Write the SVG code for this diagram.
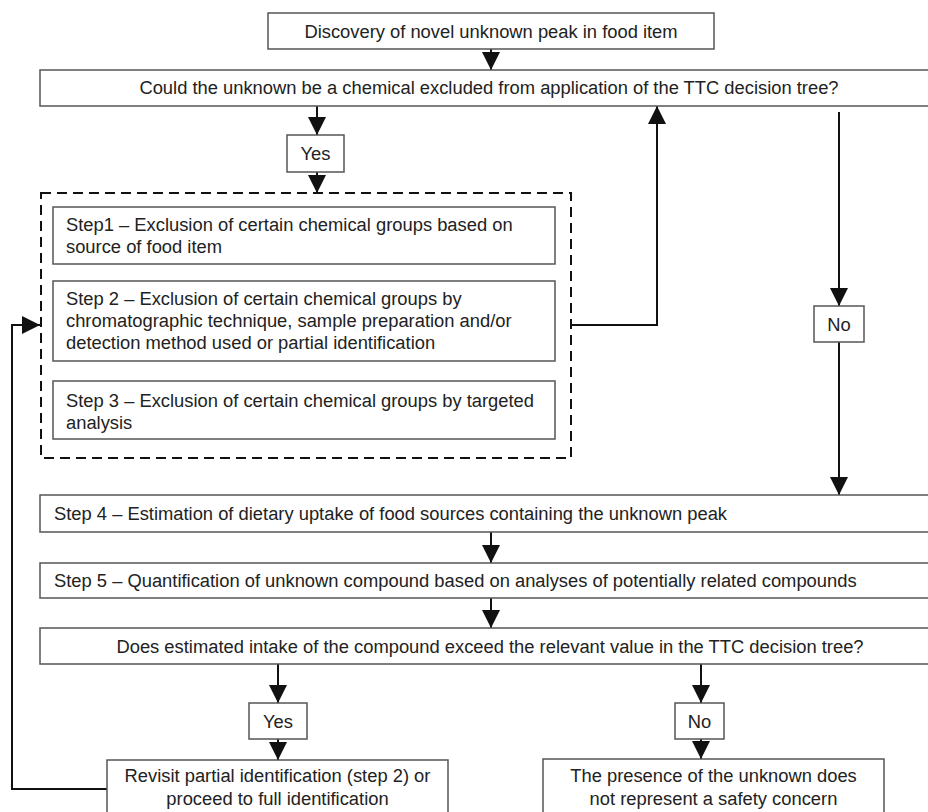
<svg xmlns="http://www.w3.org/2000/svg" width="928" height="812" viewBox="0 0 928 812">
<defs>
<style>
.box{fill:#fff;stroke:#555;stroke-width:1.5}
.dash{fill:none;stroke:#111;stroke-width:2;stroke-dasharray:10 6}
.t{font-family:"Liberation Sans",Arial,sans-serif;font-size:18.35px;fill:#222}
.c{text-anchor:middle}
.ln{fill:none;stroke:#111;stroke-width:2}
</style>
<marker id="ah" markerUnits="userSpaceOnUse" markerWidth="18" markerHeight="18" refX="18" refY="9" orient="auto" viewBox="0 0 18 18">
<path d="M0,0 L18,9 L0,18 z" fill="#111"/>
</marker>
</defs>
<rect width="928" height="812" fill="#fff"/>

<g id="connectors">
<path class="ln" d="M491,49 V70" marker-end="url(#ah)"/>
<path class="ln" d="M317,106 V135" marker-end="url(#ah)"/>
<path class="ln" d="M317,172 V193" marker-end="url(#ah)"/>
<path class="ln" d="M571,325 H657 V106" marker-end="url(#ah)"/>
<path class="ln" d="M839,112 V306" marker-end="url(#ah)"/>
<path class="ln" d="M839,342 V495" marker-end="url(#ah)"/>
<path class="ln" d="M491,532 V563" marker-end="url(#ah)"/>
<path class="ln" d="M491,598 V628" marker-end="url(#ah)"/>
<path class="ln" d="M278,664 V703" marker-end="url(#ah)"/>
<path class="ln" d="M278,739 V760" marker-end="url(#ah)"/>
<path class="ln" d="M701,664 V703" marker-end="url(#ah)"/>
<path class="ln" d="M701,739 V759" marker-end="url(#ah)"/>
<path class="ln" d="M107,789 H12 V325 H40" marker-end="url(#ah)"/>
</g>

<g id="n-discovery">
<rect class="box" x="268" y="13" width="446" height="36"/>
<text class="t c" x="491" y="38">Discovery of novel unknown peak in food item</text>
</g>

<g id="n-q1">
<rect class="box" x="40" y="70" width="900" height="36"/>
<text class="t c" x="489" y="94">Could the unknown be a chemical excluded from application of the TTC decision tree?</text>
</g>

<g id="n-yes1">
<rect class="box" x="287" y="135" width="57" height="37"/>
<text class="t c" x="315.5" y="160">Yes</text>
</g>

<g id="n-group">
<rect class="dash" x="41" y="193" width="530" height="265"/>
</g>

<g id="n-step1">
<rect class="box" x="53" y="207" width="502" height="57"/>
<text class="t" x="66" y="231">Step1 – Exclusion of certain chemical groups based on</text>
<text class="t" x="66" y="253">source of food item</text>
</g>

<g id="n-step2">
<rect class="box" x="53" y="281" width="502" height="80"/>
<text class="t" x="66" y="305">Step 2 – Exclusion of certain chemical groups by</text>
<text class="t" x="66" y="327">chromatographic technique, sample preparation and/or</text>
<text class="t" x="66" y="349">detection method used or partial identification</text>
</g>

<g id="n-step3">
<rect class="box" x="53" y="381" width="502" height="58"/>
<text class="t" x="66" y="407">Step 3 – Exclusion of certain chemical groups by targeted</text>
<text class="t" x="66" y="429">analysis</text>
</g>

<g id="n-no1">
<rect class="box" x="814" y="306" width="50" height="36"/>
<text class="t c" x="839" y="331">No</text>
</g>

<g id="n-step4">
<rect class="box" x="40" y="495" width="900" height="37"/>
<text class="t" x="54" y="520">Step 4 – Estimation of dietary uptake of food sources containing the unknown peak</text>
</g>

<g id="n-step5">
<rect class="box" x="40" y="563" width="900" height="35"/>
<text class="t" x="54" y="587">Step 5 – Quantification of unknown compound based on analyses of potentially related compounds</text>
</g>

<g id="n-q2">
<rect class="box" x="40" y="628" width="900" height="36"/>
<text class="t c" x="490" y="653">Does estimated intake of the compound exceed the relevant value in the TTC decision tree?</text>
</g>

<g id="n-yes2">
<rect class="box" x="249" y="703" width="58" height="36"/>
<text class="t c" x="278" y="728">Yes</text>
</g>

<g id="n-no2">
<rect class="box" x="675" y="703" width="49" height="36"/>
<text class="t c" x="699.5" y="728">No</text>
</g>

<g id="n-revisit">
<rect class="box" x="107" y="760" width="341" height="70"/>
<text class="t c" x="277.5" y="782">Revisit partial identification (step 2) or</text>
<text class="t c" x="277.5" y="805">proceed to full identification</text>
</g>

<g id="n-safe">
<rect class="box" x="543" y="759" width="341" height="70"/>
<text class="t c" x="713.5" y="782">The presence of the unknown does</text>
<text class="t c" x="713.5" y="805">not represent a safety concern</text>
</g>
</svg>
